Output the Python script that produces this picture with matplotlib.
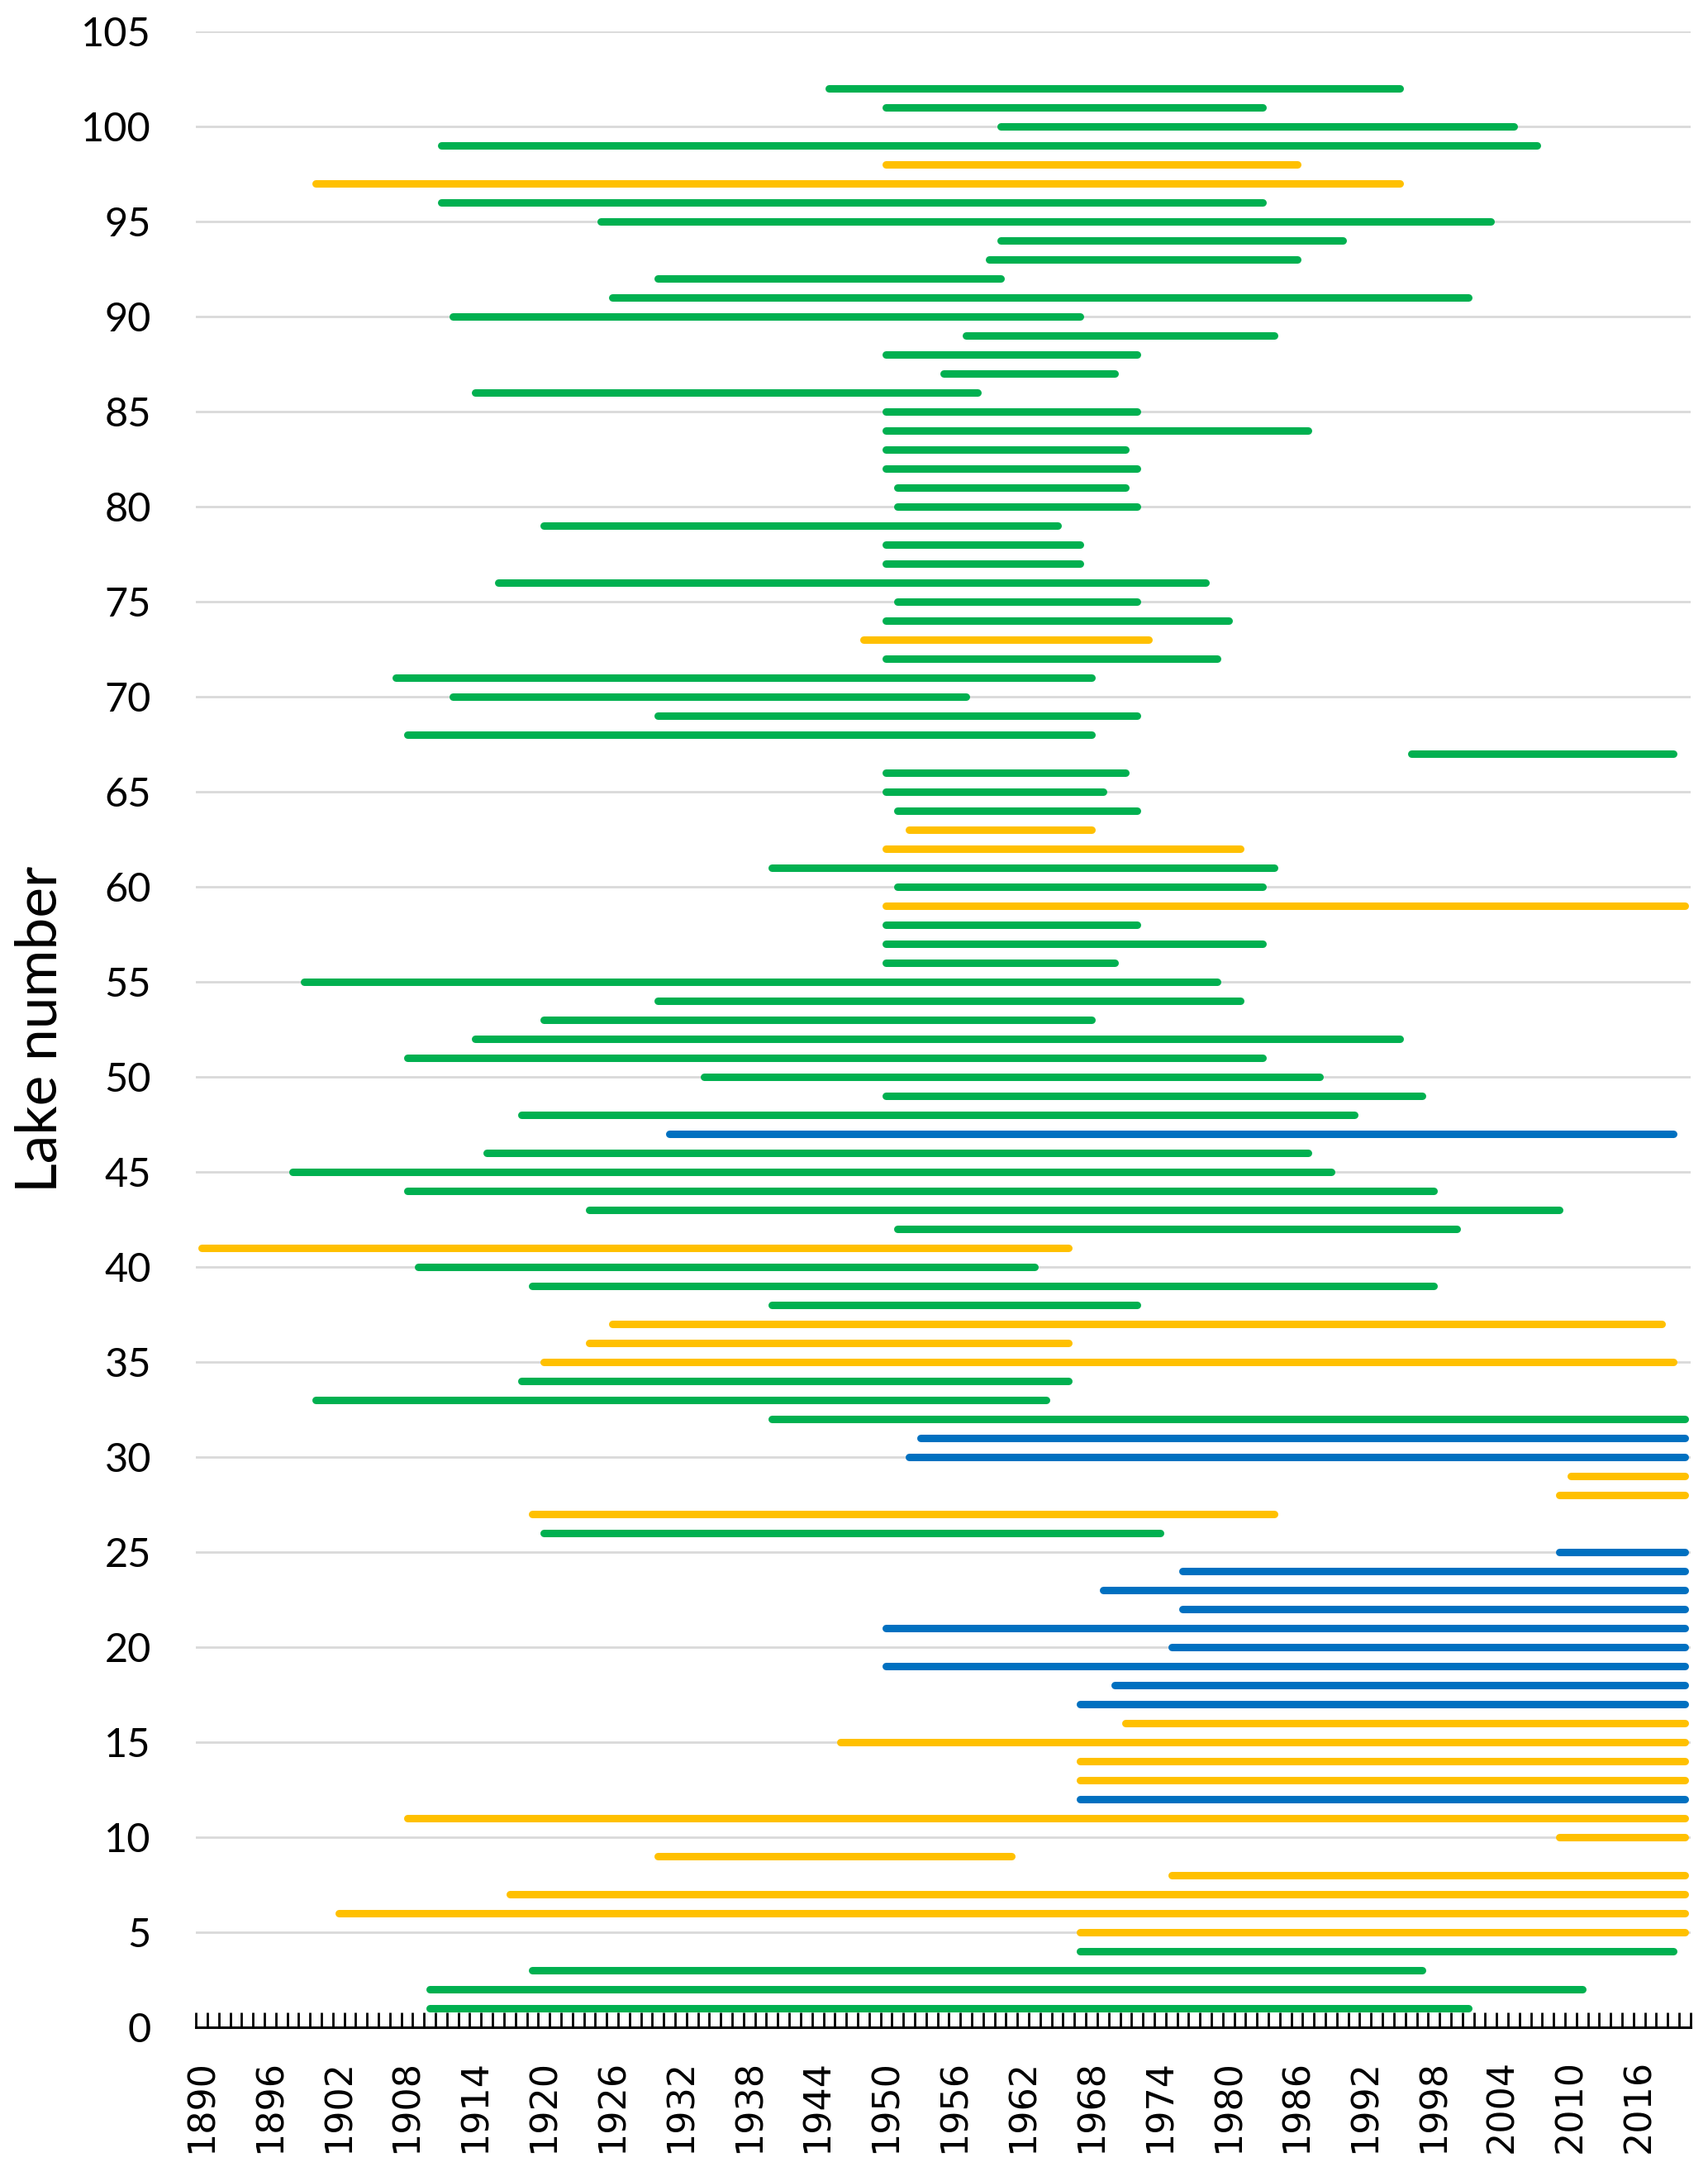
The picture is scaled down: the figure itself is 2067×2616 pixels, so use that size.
"""Observation periods of lakes, one horizontal line per lake."""

import numpy as np
import matplotlib.pyplot as plt

# Lake numbers 1..102 (bottom to top)
lake_ids = list(range(1, 103))

# Record type of each lake: G = green, Y = yellow, B = blue
record_type = [
    "G", "G", "G", "G", "Y", "Y", "Y", "Y", "Y", "Y",   # 1-10
    "Y", "B", "Y", "Y", "Y", "Y", "B", "B", "B", "B",   # 11-20
    "B", "B", "B", "B", "B", "G", "Y", "Y", "Y", "B",   # 21-30
    "B", "G", "G", "G", "Y", "Y", "Y", "G", "G", "G",   # 31-40
    "Y", "G", "G", "G", "G", "G", "B", "G", "G", "G",   # 41-50
    "G", "G", "G", "G", "G", "G", "G", "G", "Y", "G",   # 51-60
    "G", "Y", "Y", "G", "G", "G", "G", "G", "G", "G",   # 61-70
    "G", "G", "Y", "G", "G", "G", "G", "G", "G", "G",   # 71-80
    "G", "G", "G", "G", "G", "G", "G", "G", "G", "G",   # 81-90
    "G", "G", "G", "G", "G", "G", "Y", "Y", "G", "G",   # 91-100
    "G", "G",                                           # 101-102
]

# First year of record
start_year = [
    1910, 1910, 1919, 1967, 1967, 1902, 1917, 1975, 1930, 2009,
    1908, 1967, 1967, 1967, 1946, 1971, 1967, 1970, 1950, 1975,
    1950, 1976, 1969, 1976, 2009, 1920, 1919, 2009, 2010, 1952,
    1953, 1940, 1900, 1918, 1920, 1924, 1926, 1940, 1919, 1909,
    1890, 1951, 1924, 1908, 1898, 1915, 1931, 1918, 1950, 1934,
    1908, 1914, 1920, 1930, 1899, 1950, 1950, 1950, 1950, 1951,
    1940, 1950, 1952, 1951, 1950, 1950, 1996, 1908, 1930, 1912,
    1907, 1950, 1948, 1950, 1951, 1916, 1950, 1950, 1920, 1951,
    1951, 1950, 1950, 1950, 1950, 1914, 1955, 1950, 1957, 1912,
    1926, 1930, 1959, 1960, 1925, 1911, 1900, 1950, 1911, 1960,
    1950, 1945,
]

# Last year of record
end_year = [
    2001, 2011, 1997, 2019, 2020, 2020, 2020, 2020, 1961, 2020,
    2020, 2020, 2020, 2020, 2020, 2020, 2020, 2020, 2020, 2020,
    2020, 2020, 2020, 2020, 2020, 1974, 1984, 2020, 2020, 2020,
    2020, 2020, 1964, 1966, 2019, 1966, 2018, 1972, 1998, 1963,
    1966, 2000, 2009, 1998, 1989, 1987, 2019, 1991, 1997, 1988,
    1983, 1995, 1968, 1981, 1979, 1970, 1983, 1972, 2020, 1983,
    1984, 1981, 1968, 1972, 1969, 1971, 2019, 1968, 1972, 1957,
    1968, 1979, 1973, 1980, 1972, 1978, 1967, 1967, 1965, 1972,
    1971, 1972, 1971, 1987, 1972, 1958, 1970, 1972, 1984, 1967,
    2001, 1960, 1986, 1990, 2003, 1983, 1995, 1986, 2007, 2005,
    1983, 1995,
]

first_year = 1890
last_year = 2020
label_years = list(range(1890, 2017, 6))

colors = {"G": "#00B050", "Y": "#FFC000", "B": "#0070C0"}

fig = plt.figure(figsize=(20.67, 26.16), dpi=100)
ax = fig.add_axes([0.1147, 0.0624, 0.8751, 0.9232])

for lake, kind, y0, y1 in zip(lake_ids, record_type, start_year, end_year):
    ax.plot([y0, y1], [lake, lake], color=colors[kind], linewidth=6.5,
            solid_capstyle="round", zorder=3)

# x axis: one category per year, ticks on the category boundaries
ax.set_xlim(first_year - 0.5, last_year + 0.5)
ax.set_xticks(label_years)
ax.set_xticklabels([str(y) for y in label_years], rotation=90,
                   fontsize=32, family="DejaVu Sans")
ax.set_xticks(np.arange(first_year - 0.5, last_year + 1.0, 1.0), minor=True)
ax.tick_params(axis="x", which="major", length=0, pad=28)
ax.tick_params(axis="x", which="minor", direction="in", length=13,
               width=2.0, color="black")

# y axis
ax.set_ylim(0, 105)
ax.set_yticks(range(0, 106, 5))
ax.set_yticklabels([str(v) for v in range(0, 106, 5)], fontsize=35,
                   family="Lato")
ax.tick_params(axis="y", length=0, pad=39)
ax.grid(axis="y", color="#D9D9D9", linewidth=2.0, zorder=0)
ax.set_axisbelow(True)

ax.set_ylabel("Lake number", fontsize=50, family="Lato")
ax.yaxis.label.set_verticalalignment("baseline")
ax.yaxis.set_label_coords(-0.0934, 0.5)

for side in ["top", "right", "left"]:
    ax.spines[side].set_visible(False)
ax.spines["bottom"].set_linewidth(2.2)
ax.spines["bottom"].set_zorder(4)

fig.savefig("out.png", dpi=100)
